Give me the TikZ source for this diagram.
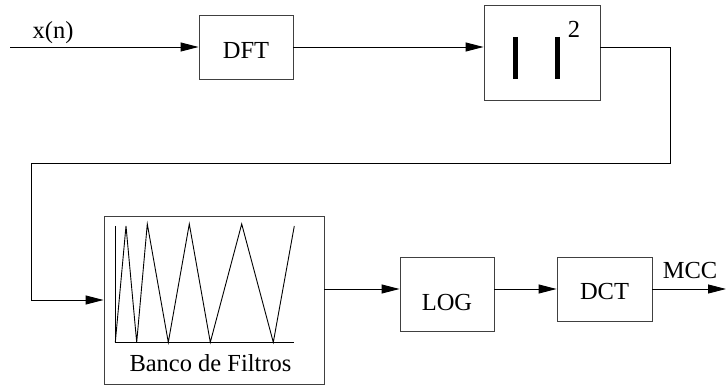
\documentclass[tikz,border=0pt]{standalone}
\usepackage{fontspec}
\setmainfont{Liberation Serif}
\newfontfamily\diagfont{Liberation Serif}
\usetikzlibrary{arrows.meta}
\begin{document}
\begin{tikzpicture}[x=1pt,y=-1pt]
\tikzset{
  blk/.style={draw=black!75, line width=0.9pt, inner sep=0pt, font=\diagfont\fontsize{24.5}{28}\selectfont},
  lbl/.style={inner sep=0pt, font=\diagfont\fontsize{24.5}{28}\selectfont},
  conn/.style={line width=0.9pt, draw=black},
  arr/.style={conn, -{Triangle[length=18pt,width=9pt]}},
  bar/.style={line width=5pt, draw=black},
}
\useasboundingbox (0,0) rectangle (726,387);
% blocks
\node[blk, minimum width=94pt, minimum height=64pt, text height=24pt, text depth=0pt] (dft) at (246,47) {DFT};
\node[blk, minimum width=116pt, minimum height=95pt] (abs) at (542,52.5) {};
\draw[bar] (515,37) -- (515,79);
\draw[bar] (557,37) -- (557,79);
\node[lbl] (sq) at (574,29.5) {2};
\node[blk, minimum width=220pt, minimum height=168pt] (banco) at (214,300) {};
\node[lbl] (bancotxt) at (210.5,363) {Banco de Filtros};
\draw[conn] (115.3,226) -- (115.3,342.3) -- (294,342.3);
\draw[conn] (115.3,342.3) -- (126,226) -- (136.7,342.3) -- (147.3,224) -- (168.3,342.3)
  -- (189.3,224) -- (210.3,342.3) -- (241.7,224) -- (273.3,342.3) -- (294.3,226);
\node[blk, minimum width=94pt, minimum height=74pt, text height=34pt, text depth=0pt] (log) at (447,294) {LOG};
\node[blk, minimum width=95pt, minimum height=64pt, text height=22pt, text depth=0pt] (dct) at (604.5,289) {DCT};
% labels and free ends
\coordinate (in) at (10,47);
\coordinate (out) at (726,289);
\coordinate (c1) at (670,163);
\coordinate (c2) at (31,163);
\node[lbl] (xn) at (53,33) {x(n)};
\node[lbl] (mcc) at (690,271) {MCC};
% connectors
\draw[arr] (in) -- (dft.west);
\draw[arr] (dft.east) -- (dft.east -| abs.west);
\draw[arr] (abs.east |- dft.east) -| (c1) -- (c2) |- (banco.west);
\draw[arr] (banco.east |- dct.west) -- (log.west |- dct.west);
\draw[arr] (log.east |- dct.west) -- (dct.west);
\draw[arr] (dct.east) -- (out);
\end{tikzpicture}
\end{document}
